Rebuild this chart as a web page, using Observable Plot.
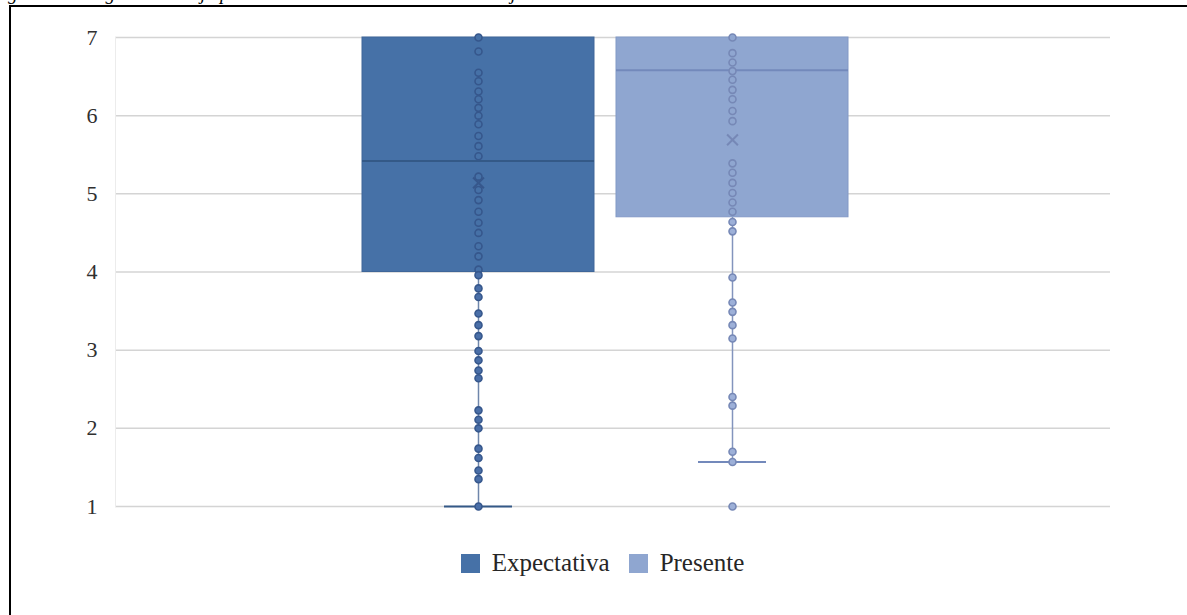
<!DOCTYPE html>
<html>
<head>
<meta charset="utf-8">
<script src="https://cdn.jsdelivr.net/npm/d3@7"></script>
<script src="https://cdn.jsdelivr.net/npm/@observablehq/plot@0.6"></script>
<style>
  html, body { margin: 0; padding: 0; background: #fff; }
  #page { position: relative; width: 1187px; height: 615px; overflow: hidden; background: #fff; }
  #title { position: absolute; left: -9px; top: -16px; font-family: "Liberation Serif", serif; font-style: italic; font-size: 19px; line-height: 20px; white-space: nowrap; color: #000; }
  #topline { position: absolute; left: 9px; top: 5px; width: 1178px; height: 2px; background: #000; }
  #leftline { position: absolute; left: 9px; top: 5px; width: 2px; height: 610px; background: #000; }
  #chart { position: absolute; left: 0; top: 0; }
  #legend { position: absolute; left: 0; top: 547px; width: 1187px; display: flex; justify-content: center; gap: 19px; padding-left: 18px; box-sizing: border-box; font-family: "Liberation Serif", serif; font-size: 25px; line-height: 32px; color: #262626; }
  .item { display: flex; align-items: center; gap: 12px; }
  .sw { width: 19px; height: 19px; display: inline-block; }
</style>
</head>
<body>
<div id="page">
  <div id="title">Figura 3&nbsp;&nbsp;&nbsp;&nbsp;Diagrama de caja por variable bienestar laboral del conjunto de docentes</div>
  <div id="topline"></div>
  <div id="leftline"></div>
  <div id="chart"></div>
  <div id="legend"></div>
</div>
<script>
// ---- data ----
const series = ["Expectativa", "Presente"];
const q1 = [4.0, 4.7];
const median = [5.42, 6.58];
const q3 = [7.0, 7.0];
const mean = [5.14, 5.69];
const whiskerLow = [1.0, 1.57];
const yTicks = [1, 2, 3, 4, 5, 6, 7];
const pointsExpectativa = [7.0, 6.82, 6.55, 6.44, 6.31, 6.21, 6.1, 6.0, 5.89, 5.74, 5.61, 5.48, 5.22, 5.05, 4.92, 4.77, 4.63, 4.5, 4.33, 4.2, 4.03,
  3.96, 3.79, 3.68, 3.47, 3.32, 3.18, 2.99, 2.87, 2.74, 2.64, 2.23, 2.11, 2.0, 1.74, 1.62, 1.46, 1.35, 1.0];
const pointsPresente = [7.0, 6.8, 6.68, 6.57, 6.46, 6.33, 6.21, 6.06, 5.93, 5.39, 5.27, 5.14, 5.01, 4.89, 4.77, 4.64, 4.52,
  3.93, 3.61, 3.49, 3.32, 3.15, 2.4, 2.29, 1.7, 1.57];
const outliersPresente = [1.0];

// ---- styles ----
const boxFill = ["#4671a7", "#8fa6d0"];
const boxStroke = ["#3e6699", "#8299c6"];
const medianStroke = ["#345987", "#7389bb"];
const whiskerStroke = ["#6f86ab", "#8394bd"];
const dotFill = ["#4a6fa8", "#9db0d8"];
const dotStroke = ["#36578c", "#7688b6"];

const idx = s => series.indexOf(s);
const stats = series.map((s, i) => ({series: s, q1: q1[i], median: median[i], q3: q3[i], mean: mean[i], low: whiskerLow[i]}));
const pts = [
  ...pointsExpectativa.map(v => ({series: "Expectativa", value: v})),
  ...pointsPresente.map(v => ({series: "Presente", value: v})),
  ...outliersPresente.map(v => ({series: "Presente", value: v}))
];

const chart = Plot.plot({
  width: 1187,
  height: 530,
  marginLeft: 115,
  marginRight: 77,
  marginTop: 37,
  marginBottom: 24,
  style: {fontFamily: "Liberation Serif, serif", fontSize: "22px", background: "transparent"},
  color: {type: "identity"},
  x: {domain: series, paddingInner: 0.087, paddingOuter: 1, align: 0.485, axis: null},
  y: {domain: [1, 7], axis: null},
  marks: [
    Plot.gridY(yTicks, {stroke: "#d4d4d4", strokeOpacity: 1, strokeWidth: 1.5}),
    Plot.frame({anchor: "left", stroke: "#ececec"}),
    Plot.axisY(yTicks, {tickSize: 0, tickPadding: 18, fontSize: 22, fill: "#303030", tickFormat: d => String(d)}),
    Plot.ruleX(stats, {x: "series", y1: "low", y2: "q1", stroke: d => whiskerStroke[idx(d.series)], strokeWidth: 1.5}),
    Plot.barY(stats, {x: "series", y1: "q1", y2: "q3", fill: d => boxFill[idx(d.series)], stroke: d => boxStroke[idx(d.series)], strokeWidth: 1}),
    Plot.tickY(stats, {x: "series", y: "median", stroke: d => medianStroke[idx(d.series)], strokeWidth: 2}),
    Plot.tickY(stats, {x: "series", y: "low", insetLeft: 82, insetRight: 82, stroke: d => medianStroke[idx(d.series)], strokeWidth: 2}),
    Plot.dot(pts, {x: "series", y: "value", r: 3.5, fill: d => d.value < q1[idx(d.series)] ? dotFill[idx(d.series)] : boxFill[idx(d.series)], stroke: d => dotStroke[idx(d.series)], strokeWidth: 1.6}),
    Plot.dot(stats, {x: "series", y: "mean", symbol: "times", r: 5, stroke: d => dotStroke[idx(d.series)], strokeWidth: 2})
  ]
});
document.getElementById("chart").appendChild(chart);

const legend = document.getElementById("legend");
series.forEach((s, i) => {
  const item = document.createElement("div");
  item.className = "item";
  const sw = document.createElement("span");
  sw.className = "sw";
  sw.style.background = boxFill[i];
  const t = document.createElement("span");
  t.textContent = s;
  item.appendChild(sw);
  item.appendChild(t);
  legend.appendChild(item);
});
</script>
</body>
</html>
